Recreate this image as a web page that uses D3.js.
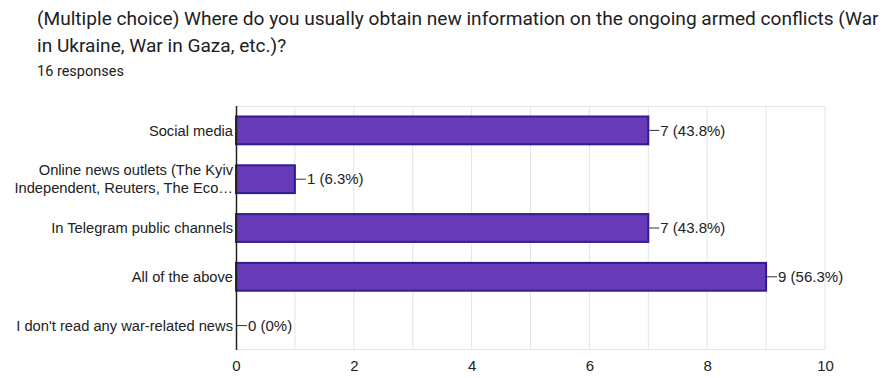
<!DOCTYPE html>
<html>
<head>
<meta charset="utf-8">
<script src="https://cdn.jsdelivr.net/npm/d3@7"></script>
<style>
  body { margin: 0; background: #fff; }
  svg { display: block; }
</style>
</head>
<body>
<svg id="chart" width="892" height="378"></svg>
<script>
const categories = [
    ["Social media"],
    ["Online news outlets (The Kyiv", "Independent, Reuters, The Eco\u2026"],
    ["In Telegram public channels"],
    ["All of the above"],
    ["I don't read any war-related news"]
];
const counts = [7, 1, 7, 9, 0];
const percents = ["43.8%", "6.3%", "43.8%", "56.3%", "0%"];
const xTicks = [0, 2, 4, 6, 8, 10];

const svg = d3.select("#chart");

// heading
const head = svg.append("g").attr("font-family", "Roboto, sans-serif").attr("fill", "#202124");
head.append("text").attr("x", 37).attr("y", 25).attr("font-size", 19.1)
    .text("(Multiple choice) Where do you usually obtain new information on the ongoing armed conflicts (War");
head.append("text").attr("x", 37).attr("y", 52).attr("font-size", 19.1)
    .text("in Ukraine, War in Gaza, etc.)?");
head.append("text").attr("x", 37).attr("y", 76).attr("font-size", 14.5)
    .text("16 responses");

const margin = {top: 106, left: 236, right: 67, bottom: 28},
    width = 892 - margin.left - margin.right,
    height = 378 - margin.top - margin.bottom;

const g = svg.append("g").attr("transform", "translate(" + margin.left + "," + margin.top + ")");

const x = d3.scaleLinear().domain([0, 10]).range([0, width]);
const y = d3.scaleBand().domain(d3.range(categories.length)).range([0, height]).paddingInner(0.43).paddingOuter(0.215);

// gridlines
g.append("g").selectAll("line").data(d3.range(1, 11)).join("line")
    .attr("x1", d => x(d)).attr("x2", d => x(d))
    .attr("y1", 0).attr("y2", height)
    .attr("stroke", "#e4e4e4").attr("stroke-width", 1);
g.append("line").attr("x1", 0).attr("x2", width).attr("y1", 0.5).attr("y2", 0.5).attr("stroke", "#e4e4e4");
g.append("line").attr("x1", 0).attr("x2", width).attr("y1", height - 0.5).attr("y2", height - 0.5).attr("stroke", "#e4e4e4");

// bars
g.append("g").selectAll("rect").data(counts).join("rect")
    .filter(d => d > 0)
    .attr("x", x(0))
    .attr("y", (d, i) => y(i))
    .attr("width", d => x(d))
    .attr("height", y.bandwidth())
    .attr("fill", "#673ab7")
    .attr("stroke", "#311b92")
    .attr("stroke-width", 2);

// value labels
const lab = g.append("g").attr("font-family", "'Liberation Sans', Arial, sans-serif").attr("font-size", 15).attr("fill", "#222");
counts.forEach((d, i) => {
    const cy = y(i) + y.bandwidth() / 2;
    lab.append("line").attr("x1", x(d) + 1).attr("x2", x(d) + 11)
        .attr("y1", cy).attr("y2", cy).attr("stroke", "#333").attr("stroke-width", 1);
    lab.append("text").attr("x", x(d) + 12).attr("y", cy).attr("dy", "0.35em")
        .text(d + " (" + percents[i] + ")");
});

// axis line
g.append("line").attr("x1", 0.5).attr("x2", 0.5).attr("y1", 0).attr("y2", height)
    .attr("stroke", "#222").attr("stroke-width", 1.5);

// category labels
const cat = g.append("g").attr("font-family", "'Liberation Sans', Arial, sans-serif").attr("font-size", 14.7).attr("fill", "#222").attr("text-anchor", "end");
categories.forEach((lines, i) => {
    const cy = y(i) + y.bandwidth() / 2;
    const t = cat.append("text").attr("x", -3).attr("y", cy - (lines.length - 1) * 9);
    lines.forEach((s, j) => {
        t.append("tspan").attr("x", -3).attr("dy", j === 0 ? "0.35em" : 18).text(s);
    });
});

// x axis
const xAxis = g.append("g").attr("transform", "translate(0," + height + ")")
    .call(d3.axisBottom(x).tickValues(xTicks).tickSize(0).tickPadding(10));
xAxis.select(".domain").remove();
xAxis.selectAll("text").attr("font-family", "'Liberation Sans', Arial, sans-serif").attr("font-size", 15).attr("fill", "#222");
</script>
</body>
</html>
